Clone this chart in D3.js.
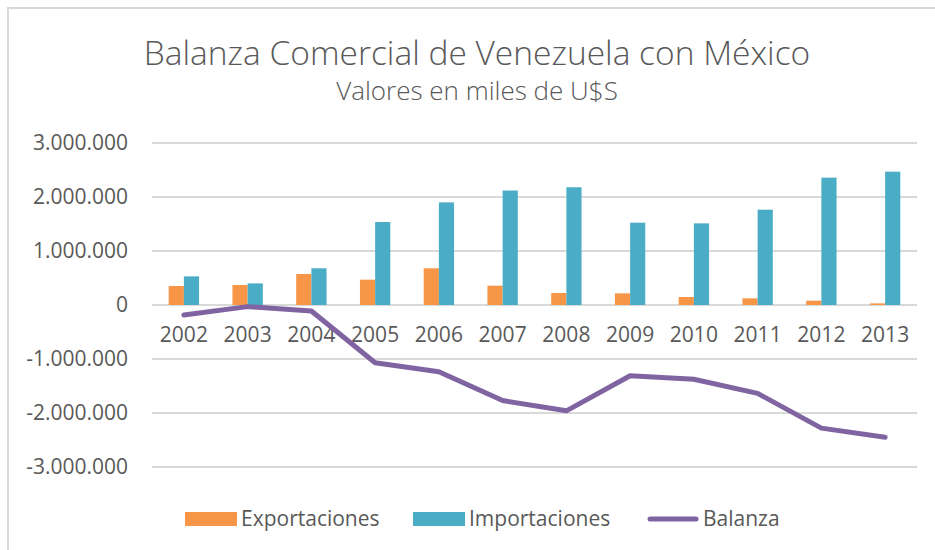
<!DOCTYPE html>
<html>
<head>
<meta charset="utf-8">
<script src="https://cdn.jsdelivr.net/npm/d3@7"></script>
<style>
	body { margin: 0; background: #fff; }
	svg { display: block; font-family: "Open Sans", sans-serif; }
</style>
</head>
<body>
<script>
"use strict";

//chart data, thousands of US$
const years = ["2002", "2003", "2004", "2005", "2006", "2007", "2008", "2009", "2010", "2011", "2012", "2013"];
const exportaciones = [352000, 370000, 574000, 469000, 680000, 358000, 222000, 216000, 148000, 123000, 80000, 30000];
const importaciones = [530000, 400000, 680000, 1537000, 1900000, 2120000, 2180000, 1524000, 1512000, 1765000, 2358000, 2469000];
const balanza = [-185000, -30000, -110000, -1070000, -1235000, -1770000, -1960000, -1310000, -1376000, -1636000, -2280000, -2450000];
const y_ticks = [-3000000, -2000000, -1000000, 0, 1000000, 2000000, 3000000];
const series_names = ["Exportaciones", "Importaciones", "Balanza"];

(function()
{
	let width = 935;
	let height = 550;
	let colors = {Exportaciones: "#F79646", Importaciones: "#4BACC6", Balanza: "#8064A2"};
	let text_color = "#595959";
	let grid_color = "#D9D9D9";

	let locale = d3.formatLocale({decimal: ",", thousands: ".", grouping: [3], currency: ["$", ""], minus: "-"});
	let fmt = locale.format(",d");

	let svg = d3.select("body").append("svg")
		.attr("width", width)
		.attr("height", height);

	//chart border, only top and left visible
	svg.append("rect")
		.attr("x", 8).attr("y", 8)
		.attr("width", width + 20).attr("height", height + 20)
		.attr("fill", "white")
		.attr("stroke", grid_color)
		.attr("stroke-width", 2);

	//titles
	svg.append("text")
		.attr("x", 477).attr("y", 65)
		.attr("text-anchor", "middle")
		.attr("font-size", 33.5)
		.attr("font-weight", 300)
		.attr("fill", text_color)
		.text("Balanza Comercial de Venezuela con México");
	svg.append("text")
		.attr("x", 477).attr("y", 100)
		.attr("text-anchor", "middle")
		.attr("font-size", 26)
		.attr("font-weight", 300)
		.attr("fill", text_color)
		.text("Valores en miles de U$S");

	//scales
	let x = d3.scaleBand().domain(years).range([152, 917]);
	let group = x.bandwidth() / 2.1;
	let xs = d3.scaleBand().domain([0, 1]).range([-group / 2, group / 2]);
	let y = d3.scaleLinear().domain([-3000000, 3000000]).range([467, 143]);

	//gridlines
	svg.append("g")
		.selectAll("line")
		.data(y_ticks)
		.join("line")
		.attr("x1", 152).attr("x2", 917)
		.attr("y1", function(d) { return y(d); })
		.attr("y2", function(d) { return y(d); })
		.attr("stroke", grid_color)
		.attr("stroke-width", 2);

	//y axis labels
	let y_axis = svg.append("g")
		.attr("transform", "translate(128,0)")
		.call(d3.axisLeft(y).tickValues(y_ticks).tickFormat(fmt).tickSize(0).tickPadding(0));
	y_axis.select(".domain").remove();
	y_axis.selectAll("text")
		.attr("font-size", 21)
		.attr("font-family", "Open Sans, sans-serif")
		.attr("fill", text_color);

	//x axis labels, below the zero line
	let x_axis = svg.append("g")
		.attr("transform", "translate(0," + y(0) + ")")
		.call(d3.axisBottom(x).tickSize(0).tickPadding(22));
	x_axis.select(".domain").remove();
	x_axis.selectAll("text")
		.attr("font-size", 21)
		.attr("font-family", "Open Sans, sans-serif")
		.attr("fill", text_color);

	//bars
	let bar_series = [exportaciones, importaciones];
	bar_series.forEach(function(values, s)
	{
		svg.append("g")
			.selectAll("rect")
			.data(values)
			.join("rect")
			.attr("x", function(d, i) { return x(years[i]) + x.bandwidth() / 2 + xs(s); })
			.attr("width", xs.bandwidth())
			.attr("y", function(d) { return y(Math.max(0, d)); })
			.attr("height", function(d) { return Math.abs(y(d) - y(0)); })
			.attr("fill", colors[series_names[s]]);
	});

	//balance line
	let line = d3.line()
		.x(function(d, i) { return x(years[i]) + x.bandwidth() / 2; })
		.y(function(d) { return y(d); });
	svg.append("path")
		.datum(balanza)
		.attr("d", line)
		.attr("fill", "none")
		.attr("stroke", colors.Balanza)
		.attr("stroke-width", 5)
		.attr("stroke-linecap", "round")
		.attr("stroke-linejoin", "round");

	//legend
	let legend = svg.append("g").attr("transform", "translate(0,519)");
	let legend_x = [185, 413, 647];
	series_names.forEach(function(name, i)
	{
		let item = legend.append("g").attr("transform", "translate(" + legend_x[i] + ",0)");
		if (i < 2)
		{
			item.append("rect")
				.attr("x", 0).attr("y", -7)
				.attr("width", 52).attr("height", 14)
				.attr("fill", colors[name]);
		}
		else
		{
			item.append("line")
				.attr("x1", 3).attr("x2", 49)
				.attr("stroke", colors[name])
				.attr("stroke-width", 5)
				.attr("stroke-linecap", "round");
		}
		item.append("text")
			.attr("x", 56).attr("y", 0)
			.attr("dy", "0.35em")
			.attr("font-size", 21)
			.attr("fill", text_color)
			.text(name);
	});
})();
</script>
</body>
</html>
